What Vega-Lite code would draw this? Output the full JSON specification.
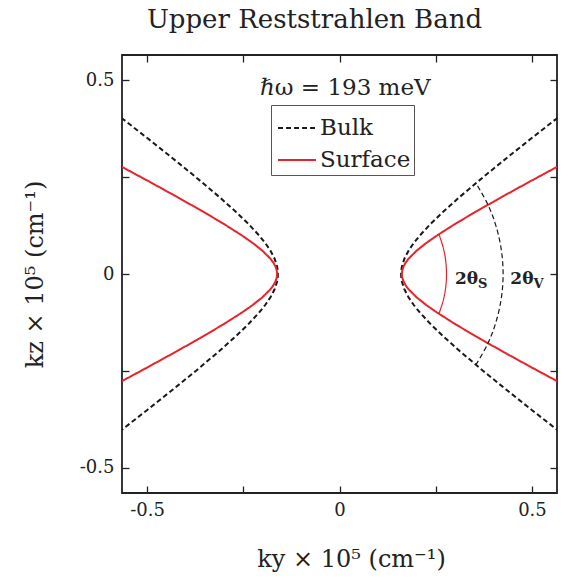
{
  "$schema": "https://vega.github.io/schema/vega-lite/v6.json",
  "width": 435,
  "height": 438,
  "autosize": {"type": "none"},
  "padding": {"left": 122, "top": 55, "right": 17, "bottom": 90},
  "background": "white",
  "title": {
    "text": "Upper Reststrahlen Band",
    "font": "DejaVu Serif",
    "fontSize": 26,
    "fontWeight": "normal",
    "color": "#222",
    "anchor": "middle",
    "dx": -25,
    "offset": 21
  },
  "config": {
    "view": {"stroke": "#222", "strokeWidth": 1.8},
    "axis": {
      "domain": false,
      "grid": false,
      "tickSize": -7,
      "tickColor": "#222",
      "tickWidth": 1.3,
      "labelFont": "DejaVu Serif",
      "labelFontSize": 18,
      "labelColor": "#222",
      "titleFont": "DejaVu Serif",
      "titleFontSize": 24,
      "titleFontWeight": "normal",
      "titleColor": "#222"
    }
  },
  "datasets": {
    "curves": [
      {"series": "Bulk", "branch": "R", "ky": 0.58877, "kz": -0.42},
      {"series": "Bulk", "branch": "R", "ky": 0.56285, "kz": -0.40},
      {"series": "Bulk", "branch": "R", "ky": 0.49855, "kz": -0.35},
      {"series": "Bulk", "branch": "R", "ky": 0.43520, "kz": -0.30},
      {"series": "Bulk", "branch": "R", "ky": 0.37328, "kz": -0.25},
      {"series": "Bulk", "branch": "R", "ky": 0.31368, "kz": -0.20},
      {"series": "Bulk", "branch": "R", "ky": 0.26869, "kz": -0.16},
      {"series": "Bulk", "branch": "R", "ky": 0.23740, "kz": -0.13},
      {"series": "Bulk", "branch": "R", "ky": 0.20928, "kz": -0.10},
      {"series": "Bulk", "branch": "R", "ky": 0.19299, "kz": -0.08},
      {"series": "Bulk", "branch": "R", "ky": 0.17931, "kz": -0.06},
      {"series": "Bulk", "branch": "R", "ky": 0.16885, "kz": -0.04},
      {"series": "Bulk", "branch": "R", "ky": 0.16226, "kz": -0.02},
      {"series": "Bulk", "branch": "R", "ky": 0.16057, "kz": -0.01},
      {"series": "Bulk", "branch": "R", "ky": 0.16000, "kz": 0},
      {"series": "Bulk", "branch": "R", "ky": 0.16057, "kz": 0.01},
      {"series": "Bulk", "branch": "R", "ky": 0.16226, "kz": 0.02},
      {"series": "Bulk", "branch": "R", "ky": 0.16885, "kz": 0.04},
      {"series": "Bulk", "branch": "R", "ky": 0.17931, "kz": 0.06},
      {"series": "Bulk", "branch": "R", "ky": 0.19299, "kz": 0.08},
      {"series": "Bulk", "branch": "R", "ky": 0.20928, "kz": 0.10},
      {"series": "Bulk", "branch": "R", "ky": 0.23740, "kz": 0.13},
      {"series": "Bulk", "branch": "R", "ky": 0.26869, "kz": 0.16},
      {"series": "Bulk", "branch": "R", "ky": 0.31368, "kz": 0.20},
      {"series": "Bulk", "branch": "R", "ky": 0.37328, "kz": 0.25},
      {"series": "Bulk", "branch": "R", "ky": 0.43520, "kz": 0.30},
      {"series": "Bulk", "branch": "R", "ky": 0.49855, "kz": 0.35},
      {"series": "Bulk", "branch": "R", "ky": 0.56285, "kz": 0.40},
      {"series": "Bulk", "branch": "R", "ky": 0.58877, "kz": 0.42},
      {"series": "Bulk", "branch": "L", "ky": -0.58877, "kz": -0.42},
      {"series": "Bulk", "branch": "L", "ky": -0.56285, "kz": -0.40},
      {"series": "Bulk", "branch": "L", "ky": -0.49855, "kz": -0.35},
      {"series": "Bulk", "branch": "L", "ky": -0.43520, "kz": -0.30},
      {"series": "Bulk", "branch": "L", "ky": -0.37328, "kz": -0.25},
      {"series": "Bulk", "branch": "L", "ky": -0.31368, "kz": -0.20},
      {"series": "Bulk", "branch": "L", "ky": -0.26869, "kz": -0.16},
      {"series": "Bulk", "branch": "L", "ky": -0.23740, "kz": -0.13},
      {"series": "Bulk", "branch": "L", "ky": -0.20928, "kz": -0.10},
      {"series": "Bulk", "branch": "L", "ky": -0.19299, "kz": -0.08},
      {"series": "Bulk", "branch": "L", "ky": -0.17931, "kz": -0.06},
      {"series": "Bulk", "branch": "L", "ky": -0.16885, "kz": -0.04},
      {"series": "Bulk", "branch": "L", "ky": -0.16226, "kz": -0.02},
      {"series": "Bulk", "branch": "L", "ky": -0.16057, "kz": -0.01},
      {"series": "Bulk", "branch": "L", "ky": -0.16000, "kz": 0},
      {"series": "Bulk", "branch": "L", "ky": -0.16057, "kz": 0.01},
      {"series": "Bulk", "branch": "L", "ky": -0.16226, "kz": 0.02},
      {"series": "Bulk", "branch": "L", "ky": -0.16885, "kz": 0.04},
      {"series": "Bulk", "branch": "L", "ky": -0.17931, "kz": 0.06},
      {"series": "Bulk", "branch": "L", "ky": -0.19299, "kz": 0.08},
      {"series": "Bulk", "branch": "L", "ky": -0.20928, "kz": 0.10},
      {"series": "Bulk", "branch": "L", "ky": -0.23740, "kz": 0.13},
      {"series": "Bulk", "branch": "L", "ky": -0.26869, "kz": 0.16},
      {"series": "Bulk", "branch": "L", "ky": -0.31368, "kz": 0.20},
      {"series": "Bulk", "branch": "L", "ky": -0.37328, "kz": 0.25},
      {"series": "Bulk", "branch": "L", "ky": -0.43520, "kz": 0.30},
      {"series": "Bulk", "branch": "L", "ky": -0.49855, "kz": 0.35},
      {"series": "Bulk", "branch": "L", "ky": -0.56285, "kz": 0.40},
      {"series": "Bulk", "branch": "L", "ky": -0.58877, "kz": 0.42},
      {"series": "Surface", "branch": "R", "ky": 0.60958, "kz": -0.30},
      {"series": "Surface", "branch": "R", "ky": 0.57191, "kz": -0.28},
      {"series": "Surface", "branch": "R", "ky": 0.49726, "kz": -0.24},
      {"series": "Surface", "branch": "R", "ky": 0.42395, "kz": -0.20},
      {"series": "Surface", "branch": "R", "ky": 0.35281, "kz": -0.16},
      {"series": "Surface", "branch": "R", "ky": 0.30182, "kz": -0.13},
      {"series": "Surface", "branch": "R", "ky": 0.25420, "kz": -0.10},
      {"series": "Surface", "branch": "R", "ky": 0.22540, "kz": -0.08},
      {"series": "Surface", "branch": "R", "ky": 0.20015, "kz": -0.06},
      {"series": "Surface", "branch": "R", "ky": 0.17995, "kz": -0.04},
      {"series": "Surface", "branch": "R", "ky": 0.17233, "kz": -0.03},
      {"series": "Surface", "branch": "R", "ky": 0.16667, "kz": -0.02},
      {"series": "Surface", "branch": "R", "ky": 0.16318, "kz": -0.01},
      {"series": "Surface", "branch": "R", "ky": 0.16200, "kz": 0},
      {"series": "Surface", "branch": "R", "ky": 0.16318, "kz": 0.01},
      {"series": "Surface", "branch": "R", "ky": 0.16667, "kz": 0.02},
      {"series": "Surface", "branch": "R", "ky": 0.17233, "kz": 0.03},
      {"series": "Surface", "branch": "R", "ky": 0.17995, "kz": 0.04},
      {"series": "Surface", "branch": "R", "ky": 0.20015, "kz": 0.06},
      {"series": "Surface", "branch": "R", "ky": 0.22540, "kz": 0.08},
      {"series": "Surface", "branch": "R", "ky": 0.25420, "kz": 0.10},
      {"series": "Surface", "branch": "R", "ky": 0.30182, "kz": 0.13},
      {"series": "Surface", "branch": "R", "ky": 0.35281, "kz": 0.16},
      {"series": "Surface", "branch": "R", "ky": 0.42395, "kz": 0.20},
      {"series": "Surface", "branch": "R", "ky": 0.49726, "kz": 0.24},
      {"series": "Surface", "branch": "R", "ky": 0.57191, "kz": 0.28},
      {"series": "Surface", "branch": "R", "ky": 0.60958, "kz": 0.30},
      {"series": "Surface", "branch": "L", "ky": -0.60958, "kz": -0.30},
      {"series": "Surface", "branch": "L", "ky": -0.57191, "kz": -0.28},
      {"series": "Surface", "branch": "L", "ky": -0.49726, "kz": -0.24},
      {"series": "Surface", "branch": "L", "ky": -0.42395, "kz": -0.20},
      {"series": "Surface", "branch": "L", "ky": -0.35281, "kz": -0.16},
      {"series": "Surface", "branch": "L", "ky": -0.30182, "kz": -0.13},
      {"series": "Surface", "branch": "L", "ky": -0.25420, "kz": -0.10},
      {"series": "Surface", "branch": "L", "ky": -0.22540, "kz": -0.08},
      {"series": "Surface", "branch": "L", "ky": -0.20015, "kz": -0.06},
      {"series": "Surface", "branch": "L", "ky": -0.17995, "kz": -0.04},
      {"series": "Surface", "branch": "L", "ky": -0.17233, "kz": -0.03},
      {"series": "Surface", "branch": "L", "ky": -0.16667, "kz": -0.02},
      {"series": "Surface", "branch": "L", "ky": -0.16318, "kz": -0.01},
      {"series": "Surface", "branch": "L", "ky": -0.16200, "kz": 0},
      {"series": "Surface", "branch": "L", "ky": -0.16318, "kz": 0.01},
      {"series": "Surface", "branch": "L", "ky": -0.16667, "kz": 0.02},
      {"series": "Surface", "branch": "L", "ky": -0.17233, "kz": 0.03},
      {"series": "Surface", "branch": "L", "ky": -0.17995, "kz": 0.04},
      {"series": "Surface", "branch": "L", "ky": -0.20015, "kz": 0.06},
      {"series": "Surface", "branch": "L", "ky": -0.22540, "kz": 0.08},
      {"series": "Surface", "branch": "L", "ky": -0.25420, "kz": 0.10},
      {"series": "Surface", "branch": "L", "ky": -0.30182, "kz": 0.13},
      {"series": "Surface", "branch": "L", "ky": -0.35281, "kz": 0.16},
      {"series": "Surface", "branch": "L", "ky": -0.42395, "kz": 0.20},
      {"series": "Surface", "branch": "L", "ky": -0.49726, "kz": 0.24},
      {"series": "Surface", "branch": "L", "ky": -0.57191, "kz": 0.28},
      {"series": "Surface", "branch": "L", "ky": -0.60958, "kz": 0.30}
    ],
    "arcs": [
      {"series": "Surface", "ky": 0.2583, "kz": -0.1028},
      {"series": "Surface", "ky": 0.2697, "kz": -0.0673},
      {"series": "Surface", "ky": 0.2759, "kz": -0.0339},
      {"series": "Surface", "ky": 0.2780, "kz": 0},
      {"series": "Surface", "ky": 0.2759, "kz": 0.0339},
      {"series": "Surface", "ky": 0.2697, "kz": 0.0673},
      {"series": "Surface", "ky": 0.2583, "kz": 0.1028},
      {"series": "Bulk", "ky": 0.3544, "kz": -0.2345},
      {"series": "Bulk", "ky": 0.3852, "kz": -0.1796},
      {"series": "Bulk", "ky": 0.4064, "kz": -0.1243},
      {"series": "Bulk", "ky": 0.4203, "kz": -0.0628},
      {"series": "Bulk", "ky": 0.4250, "kz": 0},
      {"series": "Bulk", "ky": 0.4203, "kz": 0.0628},
      {"series": "Bulk", "ky": 0.4064, "kz": 0.1243},
      {"series": "Bulk", "ky": 0.3852, "kz": 0.1796},
      {"series": "Bulk", "ky": 0.3544, "kz": 0.2345}
    ],
    "angles": [
      {"ky": 0.360, "kz": -0.012, "main": "2θ", "sub": "S"},
      {"ky": 0.504, "kz": -0.012, "main": "2θ", "sub": "V"}
    ]
  },
  "layer": [
    {
      "data": {"name": "curves"},
      "mark": {"type": "line", "clip": true, "strokeWidth": 2},
      "encoding": {
        "x": {
          "field": "ky", "type": "quantitative",
          "scale": {"domain": [-0.565, 0.565], "nice": false, "zero": false},
          "axis": {
            "orient": "bottom",
            "values": [-0.5, -0.25, 0, 0.25, 0.5],
            "labelExpr": "datum.value == 0.5 ? '0.5' : datum.value == -0.5 ? '-0.5' : datum.value == 0 ? '0' : ''",
            "labelPadding": 15,
            "title": "ky × 10⁵ (cm⁻¹)",
            "titlePadding": 28,
            "titleX": 229
          }
        },
        "y": {
          "field": "kz", "type": "quantitative",
          "scale": {"domain": [-0.565, 0.565], "nice": false, "zero": false},
          "axis": {
            "orient": "left",
            "values": [-0.5, -0.25, 0, 0.25, 0.5],
            "labelExpr": "datum.value == 0.5 ? '0.5' : datum.value == -0.5 ? '-0.5' : datum.value == 0 ? '0' : ''",
            "labelPadding": 15,
            "title": "kz × 10⁵ (cm⁻¹)",
            "titlePadding": 32
          }
        },
        "color": {
          "field": "series", "type": "nominal",
          "scale": {"domain": ["Bulk", "Surface"], "range": ["#1a1a1a", "#e8232a"]},
          "legend": {
            "title": null, "orient": "none", "legendX": 149, "legendY": 50,
            "padding": 3, "strokeColor": "#555", "fillColor": "white",
            "symbolType": "stroke", "symbolSize": 1444, "symbolStrokeWidth": 2, "symbolOffset": 3,
            "labelFont": "DejaVu Serif", "labelFontSize": 23, "labelColor": "#222",
            "labelOffset": 3, "rowPadding": -17,
            "labelExpr": "datum.label + '\u00a0\u00a0\u00a0'"
          }
        },
        "strokeDash": {
          "field": "series", "type": "nominal",
          "scale": {"domain": ["Bulk", "Surface"], "range": [[5, 3], [1, 0]]},
          "legend": {
            "title": null, "orient": "none", "legendX": 149, "legendY": 50,
            "padding": 3, "strokeColor": "#555", "fillColor": "white",
            "symbolType": "stroke", "symbolSize": 1444, "symbolStrokeWidth": 2, "symbolOffset": 3,
            "labelFont": "DejaVu Serif", "labelFontSize": 23, "labelColor": "#222",
            "labelOffset": 3, "rowPadding": -17,
            "labelExpr": "datum.label + '\u00a0\u00a0\u00a0'"
          }
        },
        "detail": {"field": "branch"},
        "order": {"field": "kz", "type": "quantitative"}
      }
    },
    {
      "data": {"name": "arcs"},
      "mark": {"type": "line", "clip": true, "strokeWidth": 1.2, "interpolate": "cardinal"},
      "encoding": {
        "x": {
          "field": "ky", "type": "quantitative",
          "axis": {"orient": "top", "values": [-0.5, -0.25, 0, 0.25, 0.5], "labels": false, "title": null}
        },
        "y": {
          "field": "kz", "type": "quantitative",
          "axis": {"orient": "right", "values": [-0.5, -0.25, 0, 0.25, 0.5], "labels": false, "title": null}
        },
        "color": {"field": "series", "type": "nominal"},
        "strokeDash": {"field": "series", "type": "nominal"},
        "order": {"field": "kz", "type": "quantitative"}
      }
    },
    {
      "data": {"name": "angles"},
      "mark": {"type": "text", "font": "DejaVu Serif", "fontSize": 17, "fontWeight": "bold", "align": "right", "baseline": "middle", "color": "#222"},
      "encoding": {
        "x": {"field": "ky", "type": "quantitative", "axis": null},
        "y": {"field": "kz", "type": "quantitative", "axis": null},
        "text": {"field": "main"}
      }
    },
    {
      "data": {"name": "angles"},
      "mark": {"type": "text", "font": "DejaVu Serif", "fontSize": 13, "fontWeight": "bold", "align": "left", "baseline": "middle", "dx": 0, "dy": 5, "color": "#222"},
      "encoding": {
        "x": {"field": "ky", "type": "quantitative", "axis": null},
        "y": {"field": "kz", "type": "quantitative", "axis": null},
        "text": {"field": "sub"}
      }
    },
    {
      "data": {"values": [{"label": "ℏω = 193 meV"}]},
      "mark": {"type": "text", "font": "DejaVu Serif", "fontSize": 23, "align": "center", "baseline": "middle", "color": "#222"},
      "encoding": {
        "x": {"datum": 0.015, "type": "quantitative", "axis": null},
        "y": {"datum": 0.479, "type": "quantitative", "axis": null},
        "text": {"field": "label"}
      }
    }
  ],
  "resolve": {"axis": {"x": "independent", "y": "independent"}}
}
